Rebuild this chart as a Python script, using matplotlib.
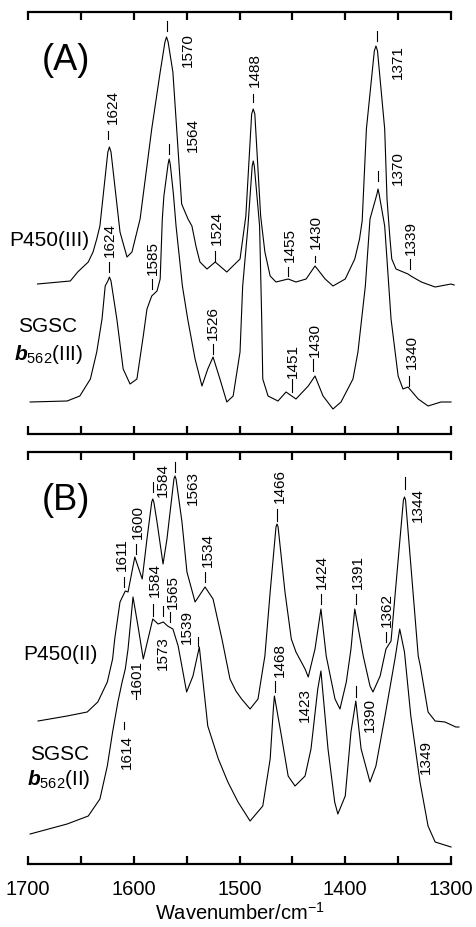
import matplotlib
matplotlib.use("Agg")
import matplotlib.pyplot as plt

plt.rcParams['font.family'] = ['Liberation Sans', 'DejaVu Sans']
plt.rcParams['mathtext.fontset'] = 'custom'
plt.rcParams['mathtext.rm'] = 'Liberation Sans'
plt.rcParams['mathtext.it'] = 'Liberation Sans:italic:bold'

# ---------------- data (wavenumber / cm-1, relative intensity) ----------------
A_top_wn = [1691, 1660, 1653, 1643, 1638.5, 1635, 1632, 1624.5, 1623, 1621.5, 1613, 1606.4, 1601.7, 1594,
            1583, 1575, 1570.5, 1569, 1567.5, 1563, 1559.4, 1554.7, 1548.7, 1545, 1541, 1537.4, 1530.7, 1523,
            1512, 1499.5, 1494, 1488.5, 1487, 1485.5, 1480, 1476, 1471, 1465.5, 1454, 1446.6, 1437, 1428.6,
            1419, 1411.6, 1400, 1391, 1386.5, 1384, 1380, 1372.5, 1371, 1369.5, 1362.7, 1360.5, 1357.7,
            1356, 1352, 1340.7, 1338, 1328, 1315, 1300, 1297]
A_top_I = [150, 153, 162, 172, 182, 195, 208, 282, 287, 282, 202, 177, 182, 215,
           305, 362, 392, 397, 392, 362, 305, 230, 215, 208, 187, 172, 165, 172,
           162, 175, 218, 320, 325, 320, 218, 182, 158, 152, 155, 152, 155, 168,
           155, 148, 155, 175, 195, 213, 305, 383, 388, 383, 305, 235, 195,
           175, 165, 160, 158, 152, 147, 150, 149]

A_bot_wn = [1698, 1663, 1651, 1641, 1635, 1630, 1627, 1624.5, 1623, 1621.5, 1616, 1610, 1603.5, 1597, 1591,
            1587.5, 1583, 1578, 1575, 1573, 1571.5, 1567.5, 1566.5, 1565.5, 1562.5, 1560, 1554, 1549, 1542,
            1535.5, 1530, 1525, 1518.5, 1512, 1506, 1499.5, 1497, 1492, 1488, 1487, 1486, 1481, 1479, 1478,
            1473, 1463.6, 1456, 1446.6, 1435, 1428.6, 1421, 1411.6, 1404, 1392.7, 1388, 1381, 1376.6,
            1370, 1369, 1368, 1362.7, 1356.7, 1350, 1345.4, 1340.7, 1331, 1321.7, 1309.5, 1300]
A_bot_I = [32, 33, 38, 55, 82, 115, 148, 153, 157, 153, 115, 65, 50, 55, 98,
           125, 138, 143, 155, 215, 238, 270, 275, 270, 240, 208, 148, 115, 75,
           48, 65, 77, 55, 32, 38, 82, 148, 208, 268, 273, 268, 208, 115, 55,
           38, 33, 42, 35, 48, 58, 38, 25, 32, 55, 82, 148, 215,
           240, 245, 240, 208, 115, 58, 45, 47, 35, 28, 32, 32]

B_top_wn = [1690.5, 1663, 1644, 1634, 1625, 1620, 1618, 1613, 1608, 1605.4, 1599, 1592, 1587.5, 1583, 1582,
            1581, 1578, 1572.3, 1568.6, 1562, 1561, 1560, 1554.4, 1549.7, 1542, 1532.6, 1525, 1516.6, 1509,
            1503.4, 1498, 1490, 1482.5, 1478, 1476, 1471, 1465.5, 1464.5, 1463.5, 1457, 1451, 1446.6, 1438,
            1435, 1428.6, 1423, 1418, 1409.7, 1405, 1399, 1394.6, 1391, 1383, 1376.6, 1373.8, 1367, 1361.5,
            1356.7, 1345, 1344, 1343, 1331, 1329, 1321.7, 1315, 1305.7, 1295.5, 1292.5]
B_top_I = [143, 148, 152, 162, 182, 205, 225, 262, 273, 272, 307, 285, 325, 362, 365,
           362, 342, 300, 325, 385, 388, 385, 342, 292, 262, 277, 265, 225, 185,
           173, 165, 155, 165, 195, 208, 272, 337, 340, 337, 272, 225, 212, 195,
           187, 215, 255, 208, 165, 155, 182, 215, 255, 208, 178, 172, 188, 215,
           223, 364, 367, 364, 208, 198, 152, 143, 142, 137, 137]

B_bot_wn = [1698, 1663, 1643, 1632, 1625, 1620, 1615, 1611, 1608, 1605.4, 1600.7, 1596, 1591, 1586.5, 1582,
            1577, 1572, 1568, 1563, 1558, 1550, 1544, 1538, 1530, 1520, 1511, 1501.4, 1490, 1478, 1471,
            1468, 1467, 1461, 1454, 1447.5, 1438, 1432.4, 1426, 1423, 1416.3, 1410, 1407, 1400, 1394.6,
            1390, 1385, 1376.6, 1371, 1362.4, 1353, 1348.5, 1344, 1338, 1329.3, 1321.7, 1315, 1303, 1300]
B_bot_I = [30, 40, 48, 65, 98, 132, 162, 182, 195, 215, 267, 238, 205, 225, 245,
           240, 242, 238, 235, 218, 172, 188, 217, 138, 105, 82, 62, 43, 58, 105,
           155, 168, 132, 88, 78, 88, 115, 175, 193, 115, 62, 50, 68, 132,
           163, 115, 82, 98, 148, 205, 235, 212, 148, 82, 38, 22, 18, 17]

tick_values = [1700, 1650, 1600, 1550, 1500, 1450, 1400, 1350, 1300]
tick_labels = ['1700', '', '1600', '', '1500', '', '1400', '', '1300']

# peak labels: text, text x, text y, dash x, dash y0, dash y1 (dash None = no dash)
A_peaks = [("1570", 1548.7, 385, 1568.6, 403, 413),
           ("1624", 1619.6, 328, 1624.4, 295, 303),
           ("1564", 1544.0, 300, 1566.7, 280, 290),
           ("1488", 1485.3, 365, 1487.2, 332, 340),
           ("1371", 1350.0, 373, 1370.0, 393, 403),
           ("1370", 1350.0, 267, 1369.0, 253, 263),
           ("1524", 1521.3, 207, 1523.2, 173, 183),
           ("1455", 1452.2, 190, 1454.0, 158, 167),
           ("1430", 1427.7, 203, 1428.6, 172, 178),
           ("1339", 1337.8, 197, 1338.8, 165, 175),
           ("1624", 1622.5, 195, 1623.4, 162, 172),
           ("1585", 1581.8, 177, 1582.7, 145, 155),
           ("1526", 1525.0, 112, 1525.0, 80, 90),
           ("1451", 1449.4, 74, 1450.4, 42, 55),
           ("1430", 1428.6, 95, 1430.5, 63, 75),
           ("1340", 1336.9, 83, 1339.7, 48, 58)]
B_peaks = [("1584", 1572.3, 385, 1581.8, 372, 382),
           ("1563", 1544.0, 377, 1561.0, 392, 402),
           ("1600", 1596.0, 343, 1598.0, 310, 320),
           ("1611", 1611.0, 310, 1609.0, 277, 287),
           ("1534", 1530.0, 315, 1532.6, 282, 292),
           ("1466", 1461.7, 379, 1464.5, 343, 355),
           ("1424", 1422.0, 293, 1423.0, 260, 270),
           ("1391", 1388.0, 293, 1390.0, 260, 270),
           ("1362", 1360.5, 255, 1361.5, 222, 232),
           ("1344", 1331.0, 360, 1343.5, 375, 387),
           ("1584", 1580.0, 285, 1581.8, 248, 260),
           ("1565", 1563.0, 273, 1565.7, 242, 252),
           ("1573", 1572.3, 212, 1572.3, 248, 258),
           ("1539", 1549.6, 238, 1539.2, 218, 227),
           ("1468", 1461.7, 205, 1466.4, 172, 183),
           ("1601", 1597.0, 188, 1598.0, 165, 172),
           ("1423", 1438.0, 160, None, 0, 0),
           ("1390", 1376.6, 150, 1390.0, 167, 178),
           ("1349", 1323.6, 108, None, 0, 0),
           ("1614", 1606.4, 113, 1609.0, 135, 142)]

# ---------------- figure ----------------
W, H = 477, 928
fig = plt.figure(figsize=(W / 100, H / 100), dpi=100)
axA = fig.add_axes([28 / W, 1 - 435 / H, 423 / W, 422 / H])
axB = fig.add_axes([28 / W, 1 - 865 / H, 423 / W, 412 / H])

for ax, ymax, lab in [(axA, 422, False), (axB, 412, True)]:
    ax.set_xlim(1700, 1300)
    ax.set_ylim(0, ymax)
    ax.patch.set_alpha(0)
    for s in ['left', 'right']:
        ax.spines[s].set_visible(False)
    for s in ['top', 'bottom']:
        ax.spines[s].set_linewidth(1.6)
    ax.set_yticks([])
    ax.set_xticks(tick_values)
    ax.set_xticklabels(tick_labels if lab else [''] * len(tick_values))
    ax.tick_params(axis='x', which='both', direction='in', top=True, bottom=True,
                   length=6, width=1.6, labelsize=14.5, pad=11,
                   labelbottom=lab, labeltop=False)

line_kw = dict(color='black', lw=0.8, clip_on=False)
axA.plot(A_top_wn, A_top_I, **line_kw)
axA.plot(A_bot_wn, A_bot_I, **line_kw)
axB.plot(B_top_wn, B_top_I, **line_kw)
axB.plot(B_bot_wn, B_bot_I, **line_kw)

for ax, peaks in [(axA, A_peaks), (axB, B_peaks)]:
    for txt, tx, ty, dx, d0, d1 in peaks:
        ax.text(tx, ty, txt, rotation=90, ha='center', va='center', fontsize=11)
        if dx is not None:
            ax.plot([dx, dx], [d0, d1], color='black', lw=0.8)

axA.text(1664, 375, '(A)', fontsize=26, ha='center', va='center')
axB.text(1664, 365, '(B)', fontsize=26, ha='center', va='center')

axA.text(1680, 194, 'P450(III)', fontsize=15, ha='center', va='center')
axA.text(1681, 108, 'SGSC', fontsize=15, ha='center', va='center')
axA.text(1681, 81, r'$\mathit{b}_{562}$(III)', fontsize=15, ha='center', va='center')

axB.text(1669, 210, 'P450(II)', fontsize=15, ha='center', va='center')
axB.text(1670, 110, 'SGSC', fontsize=15, ha='center', va='center')
axB.text(1671, 85, r'$\mathit{b}_{562}$(II)', fontsize=15, ha='center', va='center')

axB.set_xlabel(r'Wavenumber/cm$^{-1}$', fontsize=14.5, labelpad=2)

fig.savefig('out.png', dpi=100)
